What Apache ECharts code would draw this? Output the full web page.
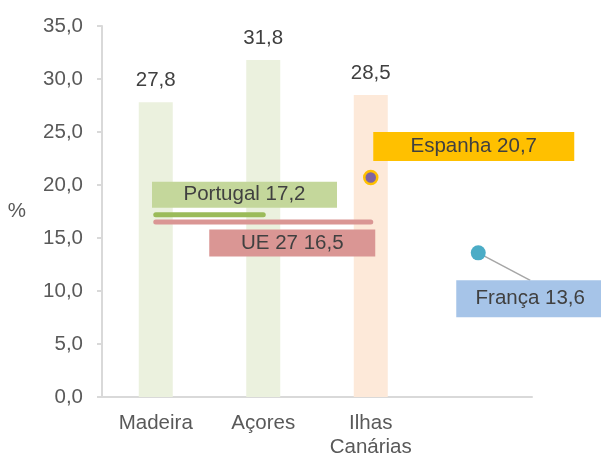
<!DOCTYPE html>
<html>
<head>
<meta charset="utf-8">
<script src="https://cdn.jsdelivr.net/npm/echarts@6/dist/echarts.min.js"></script>
<style>
    html, body { margin: 0; padding: 0; background: #fff; }
    #chart { width: 601px; height: 455px; }
</style>
</head>
<body>
<div id="chart"></div>
<script>
// regiões (barras)
const categories = ['Madeira', 'Açores', 'Ilhas\nCanárias', ''];
const regionValues = [27.8, 31.8, 28.5, null];

// referências nacionais
const portugalValue = 17.2;
const portugalSpan = [0, 1];     // de Madeira a Açores
const ueValue = 16.5;
const ueSpan = [0, 2];           // de Madeira a Ilhas Canárias
const espanhaValue = 20.7;
const espanhaAt = 2;             // sobre Ilhas Canárias
const francaValue = 13.6;
const francaAt = 3;

const FONT = 'Liberation Sans, Arial, sans-serif';
const FS = 20.5;

// grelha (px)
const GRID = { left: 102, right: 69, top: 26, bottom: 58 };
const PX_X = (601 - GRID.left - GRID.right) / 4;    // px por unidade do eixo auxiliar
const PX_Y = (455 - GRID.top - GRID.bottom) / 35;   // px por unidade de %

// caixa da França: deslocamento em px a partir do ponto
const FR_BOX = { dx: 52, dy: 46, w: 148, h: 37 };

function fmt(v) {
    return v.toFixed(1).replace('.', ',');
}

// posição do centro da categoria no eixo de valores auxiliar
function catX(i) {
    return i + 0.5;
}

function boxLabel(text, bg, w, h, offset) {
    return {
        show: true,
        position: 'inside',
        offset: offset,
        formatter: text,
        width: w,
        height: h,
        lineHeight: h,
        align: 'center',
        verticalAlign: 'middle',
        backgroundColor: bg,
        color: '#404040',
        opacity: 1,
        fontSize: FS,
        fontFamily: FONT
    };
}

let chart = echarts.init(document.getElementById('chart'));

chart.setOption({
    animation: false,
    grid: {
        left: GRID.left,
        right: GRID.right,
        top: GRID.top,
        bottom: GRID.bottom,
        containLabel: false,
        outerBoundsMode: 'none'
    },
    xAxis: [
        {
            type: 'category',
            data: categories,
            axisLine: { lineStyle: { color: '#D9D9D9', width: 2 } },
            axisTick: { show: false },
            axisLabel: {
                color: '#595959',
                fontSize: FS,
                fontFamily: FONT,
                lineHeight: 24,
                margin: 14,
                interval: 0
            }
        },
        {
            type: 'value',
            min: 0,
            max: 4,
            show: false
        }
    ],
    yAxis: {
        type: 'value',
        min: 0,
        max: 35,
        interval: 5,
        name: '%',
        nameLocation: 'middle',
        nameRotate: 0,
        nameGap: 76,
        nameTextStyle: { color: '#595959', fontSize: FS, fontFamily: FONT, padding: [6, 0, 0, 0] },
        axisLine: { show: true, lineStyle: { color: '#D9D9D9', width: 2 } },
        axisTick: { show: true, length: 5, lineStyle: { color: '#D9D9D9', width: 2 } },
        splitLine: { show: false },
        axisLabel: {
            color: '#595959',
            fontSize: FS,
            fontFamily: FONT,
            margin: 19,
            formatter: v => fmt(v)
        }
    },
    series: [
        {
            name: 'Regiões',
            type: 'bar',
            barWidth: 34,
            data: regionValues.map((v, i) => ({
                value: v,
                itemStyle: { color: i === 2 ? '#FDE9D9' : '#EBF1DE' }
            })),
            label: {
                show: true,
                position: 'top',
                distance: 11,
                color: '#404040',
                fontSize: FS,
                fontFamily: FONT,
                formatter: p => (p.value == null ? '' : fmt(p.value))
            },
            z: 1
        },
        {
            name: 'UE 27',
            type: 'line',
            xAxisIndex: 1,
            showSymbol: false,
            data: ueSpan.map(i => [catX(i), ueValue]),
            lineStyle: { color: '#DA9694', width: 5, cap: 'round' },
            z: 3
        },
        {
            name: 'Portugal',
            type: 'line',
            xAxisIndex: 1,
            showSymbol: false,
            data: portugalSpan.map(i => [catX(i), portugalValue]),
            lineStyle: { color: '#9BBB59', width: 5, cap: 'round' },
            z: 3
        },
        {
            // linha de chamada da França (do ponto ao topo da caixa)
            name: 'guia',
            type: 'line',
            xAxisIndex: 1,
            showSymbol: false,
            data: [
                [catX(francaAt), francaValue],
                [catX(francaAt) + FR_BOX.dx / PX_X, francaValue - (FR_BOX.dy - FR_BOX.h / 2) / PX_Y]
            ],
            lineStyle: { color: '#A6A6A6', width: 1.5 },
            z: 4
        },
        {
            name: 'rótulos',
            type: 'scatter',
            xAxisIndex: 1,
            symbolSize: 1,
            itemStyle: { color: 'rgba(0,0,0,0)', opacity: 1 },
            data: [
                {
                    value: [catX(portugalSpan[0]) + 0.5, portugalValue],
                    label: boxLabel('Portugal ' + fmt(portugalValue), '#C4D79B', 185, 26, [35, -20])
                },
                {
                    value: [catX(ueSpan[0]) + 1, ueValue],
                    label: boxLabel('UE 27 ' + fmt(ueValue), '#DA9694', 166, 27, [29, 21])
                }
            ],
            z: 4
        },
        {
            name: 'Espanha',
            type: 'scatter',
            xAxisIndex: 1,
            symbolSize: 13,
            itemStyle: { color: '#8064A2', borderColor: '#FFC000', borderWidth: 2.5, opacity: 1 },
            data: [{
                value: [catX(espanhaAt), espanhaValue],
                label: boxLabel('Espanha ' + fmt(espanhaValue), '#FFC000', 201, 29, [103, -31])
            }],
            z: 5
        },
        {
            name: 'França',
            type: 'scatter',
            xAxisIndex: 1,
            symbolSize: 15,
            itemStyle: { color: '#4BACC6', opacity: 1 },
            data: [{
                value: [catX(francaAt), francaValue],
                label: boxLabel('França ' + fmt(francaValue), '#A6C4E8', FR_BOX.w, FR_BOX.h, [FR_BOX.dx, FR_BOX.dy])
            }],
            z: 5
        }
    ]
});
</script>
</body>
</html>
